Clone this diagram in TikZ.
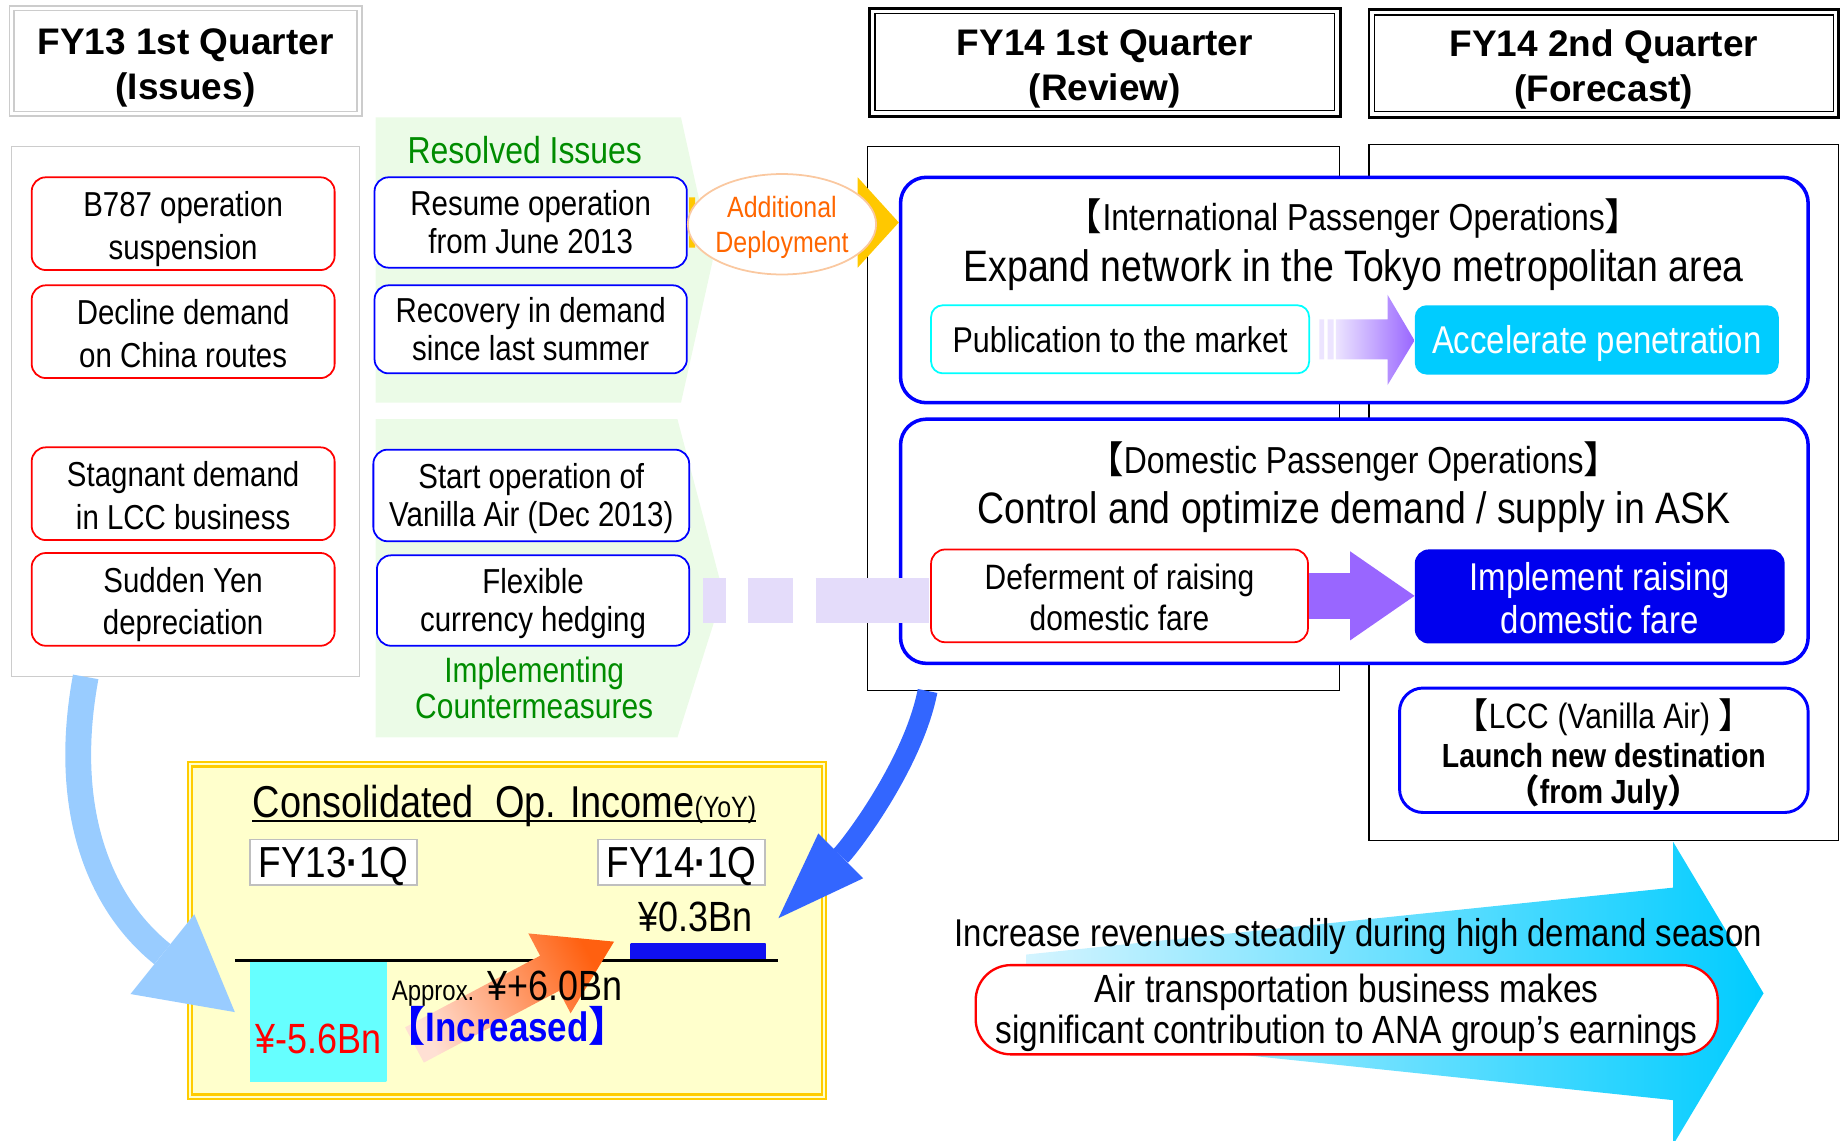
\documentclass[tikz,border=0pt]{standalone}
\usepackage{fontspec}
\setmainfont{Liberation Sans}
\newfontfamily\narrowfont{Liberation Sans}[FakeStretch=0.85]
\newfontfamily\cjkfont{Noto Sans CJK JP}
\usepackage{tikz}
\usetikzlibrary{shapes.geometric}
\usetikzlibrary{arrows.meta}

\definecolor{IssueRed}{HTML}{FF0000}
\definecolor{MeasureBlue}{HTML}{0000FF}
\definecolor{ResolvedBg}{HTML}{EBFBE7}
\definecolor{ResolvedGreen}{HTML}{008C00}
\definecolor{DeployGold}{HTML}{FFC800}
\definecolor{DeployRim}{HTML}{FAC8A0}
\definecolor{DeployOrange}{HTML}{FF6600}
\definecolor{PubCyan}{HTML}{00FFFF}
\definecolor{PubPale}{HTML}{ECE4FF}
\definecolor{AccelCyan}{HTML}{00CCFF}
\definecolor{DomPurple}{HTML}{9966FF}
\definecolor{DeferLavender}{HTML}{E4DCFA}
\definecolor{ImplBlue}{HTML}{0000EE}
\definecolor{LossArrow}{HTML}{99CCFF}
\definecolor{GainArrow}{HTML}{3366FF}
\definecolor{IncomeFill}{HTML}{FFFFCC}
\definecolor{IncomeGold}{HTML}{FFCC00}
\definecolor{LossCyan}{HTML}{66FFFF}
\definecolor{LossPale}{HTML}{E6FFFF}
\definecolor{GainBlue}{HTML}{1010F0}
\definecolor{GainPale}{HTML}{8C8CFF}
\definecolor{RiseOrange}{HTML}{FF6010}
\definecolor{RisePale}{HTML}{FFE0D4}
\definecolor{SeasonPale}{HTML}{D4F4FF}
\definecolor{SeasonCyan}{HTML}{00CCFF}

\newcommand{\LBr}{{\cjkfont 【}}
\newcommand{\RBr}{{\cjkfont 】}}
\newcommand{\LPa}{{\cjkfont （}}
\newcommand{\RPa}{{\cjkfont ）}}
% first line pushed down by a strut, last line given a fixed depth
\newcommand{\TwoLines}[3][1.05em]{\rule{0pt}{#1}#2\\#3\rule[-0.25em]{0pt}{0.25em}}

\begin{document}
\begin{tikzpicture}[x=1pt,y=-1pt]
	\tikzstyle{HeadStyle} = [draw, fill=white, line width=2.5pt, minimum width=400pt, minimum height=92pt, align=center, inner sep=0pt, font=\bfseries\fontsize{31.5}{38}\selectfont]
	\tikzstyle{PanelStyle} = [draw, line width=1pt, inner sep=0pt]
	\tikzstyle{IssueStyle} = [draw=IssueRed, line width=1.5pt, rounded corners=12pt, fill=white, minimum width=258pt, minimum height=79pt, align=center, inner sep=0pt, font=\narrowfont\fontsize{29.5}{36}\selectfont]
	\tikzstyle{MeasureStyle} = [IssueStyle, draw=MeasureBlue, minimum width=266pt, minimum height=77pt, font=\narrowfont\fontsize{29.5}{32}\selectfont]
	\tikzstyle{GroupStyle} = [draw=MeasureBlue, line width=3pt, rounded corners=22pt, fill=white, minimum width=773pt, inner sep=0pt]
	\tikzstyle{TextStyle} = [align=center, inner sep=0pt, anchor=base, font=\narrowfont\fontsize{31}{36}\selectfont]
	\tikzstyle{YearStyle} = [draw=gray!50, line width=1.5pt, fill=white, minimum width=142pt, minimum height=39pt, inner sep=0pt, text depth=0pt, font=\narrowfont\fontsize{37}{40}\selectfont]
	%\draw[help lines, step=100] (0,0) grid (1568,971);
	\useasboundingbox (0,0) rectangle (1568,971);

	\node[HeadStyle, draw=gray!40, line width=1.5pt, double=white, double distance=2.5pt, minimum width=296pt, minimum height=90pt] (fy13) at (158,52) {\TwoLines[1.1em]{FY13 1st Quarter}{(Issues)}};
	\node[HeadStyle, minimum width=401pt] (fy14a) at (941,53) {\TwoLines[1.1em]{FY14 1st Quarter}{(Review)}};
	\node[HeadStyle] (fy14b) at (1366,54) {\TwoLines[1.1em]{FY14 2nd Quarter}{(Forecast)}};
	\draw[line width=1pt] ([shift={(6pt,-6pt)}]fy14a.north west) rectangle ([shift={(-6pt,6pt)}]fy14a.south east);
	\draw[line width=1pt] ([shift={(6pt,-6pt)}]fy14b.north west) rectangle ([shift={(-6pt,6pt)}]fy14b.south east);

	\node[PanelStyle, draw=gray!40, minimum width=296pt, minimum height=451pt] (issuepanel) at (158,350.5) {};
	\node[PanelStyle, minimum width=402pt, minimum height=463pt] (reviewpanel) at (940,356.5) {};
	\node[PanelStyle, minimum width=400pt, minimum height=593pt] (forecastpanel) at (1366,419.5) {};

	\fill[ResolvedBg] (320,100) -- (580,100) -- (607,222) -- (580,343) -- (320,343) -- cycle;
	\fill[ResolvedBg] (320,357) -- (577,357) -- (616,505) -- (577,628) -- (320,628) -- cycle;

	\node[IssueStyle] (b787) at (156,190.5) {\TwoLines[1.07em]{B787 operation}{suspension}};
	\node[IssueStyle] (china) at (156,282.5) {\TwoLines[1.07em]{Decline demand}{on China routes}};
	\node[IssueStyle] (lccdemand) at (156,420.5) {\TwoLines[1.07em]{Stagnant demand}{in LCC business}};
	\node[IssueStyle] (yen) at (156,510.5) {\TwoLines[1.07em]{Sudden Yen}{depreciation}};

	\node[TextStyle, text=ResolvedGreen, font=\narrowfont\fontsize{32}{36}\selectfont] (resolved) at (447,139.5) {Resolved Issues};
	\node[MeasureStyle] (resume) at (452,189.5) {\TwoLines[0.94em]{Resume operation}{from June 2013}};
	\node[MeasureStyle, minimum height=75pt] (recovery) at (452,280.5) {\TwoLines[0.94em]{Recovery in demand}{since last summer}};
	\node[MeasureStyle, minimum width=269pt, minimum height=78pt] (vanilla) at (452.5,422) {\TwoLines[0.94em]{Start operation of}{Vanilla Air (Dec 2013)}};
	\node[MeasureStyle] (hedging) at (454,511.5) {\TwoLines[0.94em]{Flexible}{currency hedging}};
	\node[TextStyle, anchor=center, text=ResolvedGreen, font=\narrowfont\fontsize{30}{31}\selectfont] (implementing) at (455,586) {Implementing\\Countermeasures};

	\node[GroupStyle, minimum height=192pt] (intl) at (1153.5,247) {};
	\fill[DeployGold] (587,168) rectangle (592,211) (597,168) rectangle (602,211);
	\draw[DeployGold, line width=43pt, -{Triangle[length=35pt, width=77pt, line width=0pt]}] ([xshift=21pt]resume.east) -- (resume.east -| intl.west);
	\node[ellipse, draw=DeployRim, line width=1.5pt, fill=white, minimum width=123pt, minimum height=72pt, inner sep=0pt, align=center, text=DeployOrange, font=\narrowfont\fontsize{25}{30}\selectfont] (deploy) at (666,191) {\TwoLines[0.97em]{Additional}{Deployment}};

	\node[TextStyle, font=\narrowfont\fontsize{32}{36}\selectfont] (intltitle) at (1153,196.5) {\LBr International Passenger Operations\RBr};
	\node[TextStyle, font=\narrowfont\fontsize{37.5}{40}\selectfont] (intlgoal) at (1153,239.5) {Expand network in the Tokyo metropolitan area};
	\node[draw=PubCyan, line width=1.5pt, rounded corners=10pt, fill=white, minimum width=322pt, minimum height=58pt, inner sep=0pt, font=\narrowfont\fontsize{30.5}{34}\selectfont] (publication) at (954,289) {Publication to the market};
	\node[fill=AccelCyan, rounded corners=10pt, minimum width=310pt, minimum height=59pt, inner sep=0pt, text depth=0pt, text=white, font=\narrowfont\fontsize{33}{36}\selectfont] (accelerate) at (1360,289.5) {Accelerate penetration};
	\begin{scope}[shift={(publication.east)}]
		\fill[PubPale] (8,-17) rectangle (12,17) (15,-17) rectangle (20,17);
		\shade[left color=PubPale, right color=DomPurple] (22,-17) -- (66,-17) -- (66,-38) -- (89,1) -- (66,39) -- (66,17) -- (22,17) -- cycle;
	\end{scope}

	\node[GroupStyle, minimum height=208pt] (dom) at (1153.5,461) {};
	\node[TextStyle, font=\narrowfont\fontsize{32}{36}\selectfont] (domtitle) at (1153,403.5) {\LBr Domestic Passenger Operations\RBr};
	\node[TextStyle, font=\narrowfont\fontsize{37.5}{40}\selectfont] (domgoal) at (1153,445.5) {Control and optimize demand / supply in ASK};
	\coordinate (deferin) at ([xshift=26pt]dom.west);
	\draw[DeferLavender, line width=39pt, dash pattern=on 20pt off 18pt on 39pt off 19pt on 200pt] ([xshift=11pt]hedging.east) -- (deferin |- hedging.east);
	\node[IssueStyle, minimum width=321pt, font=\narrowfont\fontsize{30}{35}\selectfont] (deferment) at (953.5,507.5) {\TwoLines[1.03em]{Deferment of raising}{domestic fare}};
	\node[fill=ImplBlue, rounded corners=12pt, minimum width=315pt, minimum height=78pt, inner sep=0pt, align=center, text=white, font=\narrowfont\fontsize{33}{37}\selectfont] (implement) at (1362.5,508) {\TwoLines[1.056em]{Implement raising}{domestic fare}};
	\draw[DomPurple, line width=39pt, -{Triangle[length=55pt, width=76pt, line width=0pt]}] (deferment.east) -- (deferment.east -| implement.west);

	\node[draw=MeasureBlue, line width=2.5pt, rounded corners=20pt, fill=white, minimum width=348pt, minimum height=106pt] (lcc) at (1366,639) {};
	\node[TextStyle, font=\narrowfont\fontsize{30}{34}\selectfont] (lcctitle) at (1366,620.5) {\LBr LCC\hspace{0.25em}(Vanilla Air)\hspace{0.25em}\RBr};
	\node[TextStyle, font=\narrowfont\bfseries\fontsize{28.5}{30}\selectfont] (lccdest) at (1366,654) {Launch new destination};
	\node[TextStyle, font=\narrowfont\bfseries\fontsize{28.5}{30}\selectfont] (lccdate) at (1366,684) {\LPa from July\RPa};

	\node[draw=IncomeGold, double=IncomeFill, double distance=1.5pt, line width=2pt, fill=IncomeFill, minimum width=540pt, minimum height=283pt] (income) at (432,792.5) {};
	\node[TextStyle, anchor=base west, font=\narrowfont\fontsize{38}{40}\selectfont] (incometitle) at (215,696) {Consolidated\ \ Op. Income{\fontsize{25}{25}\selectfont(YoY)}};
	\draw[line width=1.5pt] ([yshift=-3pt]incometitle.base west) -- ([yshift=-3pt]incometitle.base east);
	\node[YearStyle] (fy13q) at (284,734.5) {FY13{\bfseries·}1Q};
	\node[YearStyle] (fy14q) at (580.5,734.5) {FY14{\bfseries·}1Q};
	\node[minimum width=116pt, minimum height=102pt, inner sep=0pt, left color=LossCyan, middle color=LossPale, right color=LossCyan] (lossbar) at (271,870) {};
	\node[minimum width=115pt, minimum height=13pt, inner sep=0pt, left color=GainBlue, middle color=GainPale, right color=GainBlue] (gainbar) at (594.5,810.5) {};
	\draw[line width=2pt] (200,818) -- (663,818);
	\node[TextStyle, text=IssueRed, font=\narrowfont\fontsize{36}{40}\selectfont] (lossvalue) at (271,897) {¥-5.6Bn};
	\node[TextStyle, font=\narrowfont\fontsize{36}{40}\selectfont] (gainvalue) at (592,793) {¥0.3Bn};
	\shade[left color=RisePale, right color=RiseOrange, shading angle=118] (345,875) -- (460,814) -- (450,795) -- (523,802) -- (486,863) -- (476,844) -- (361,905) -- cycle;
	\node[TextStyle, font=\narrowfont\fontsize{36}{40}\selectfont] (risevalue) at (432,852) {{\fontsize{24}{28}\selectfont Approx.} ¥+6.0Bn};
	\node[TextStyle, text=MeasureBlue, font=\narrowfont\bfseries\fontsize{35}{40}\selectfont] (risenote) at (432,887) {\smash{\LBr}Increased\smash{\RBr}};

	\coordinate (lossin) at (200,862);
	\draw[LossArrow, line width=22pt, -{Triangle[length=79pt, width=87pt, line width=0pt]}] ([xshift=-85pt]issuepanel.south) .. controls (52,690) and (85,770) .. (lossin);
	\coordinate (gainin) at (663,782);
	\draw[GainArrow, line width=17pt, -{Triangle[length=75pt, width=54pt, line width=0pt]}] ([xshift=-150pt]reviewpanel.south) .. controls (778,650) and (725,720) .. (gainin);

	\shade[left color=SeasonPale, right color=SeasonCyan] (874,813) -- (1425,756) -- (1425,717) -- (1502,846) -- (1425,975) -- (1425,937) -- (874,879) -- cycle;
	\node[TextStyle, font=\narrowfont\fontsize{33}{36}\selectfont] (season) at (1157,806) {Increase revenues steadily during high demand season};
	\node[draw=IssueRed, line width=2pt, rounded corners=30pt, fill=white, minimum width=632pt, minimum height=76pt, align=center, inner sep=0pt, font=\narrowfont\fontsize{33.5}{35}\selectfont] (earnings) at (1147,860) {\TwoLines[0.94em]{Air transportation business makes}{significant contribution to ANA group’s earnings}};
\end{tikzpicture}
\end{document}
